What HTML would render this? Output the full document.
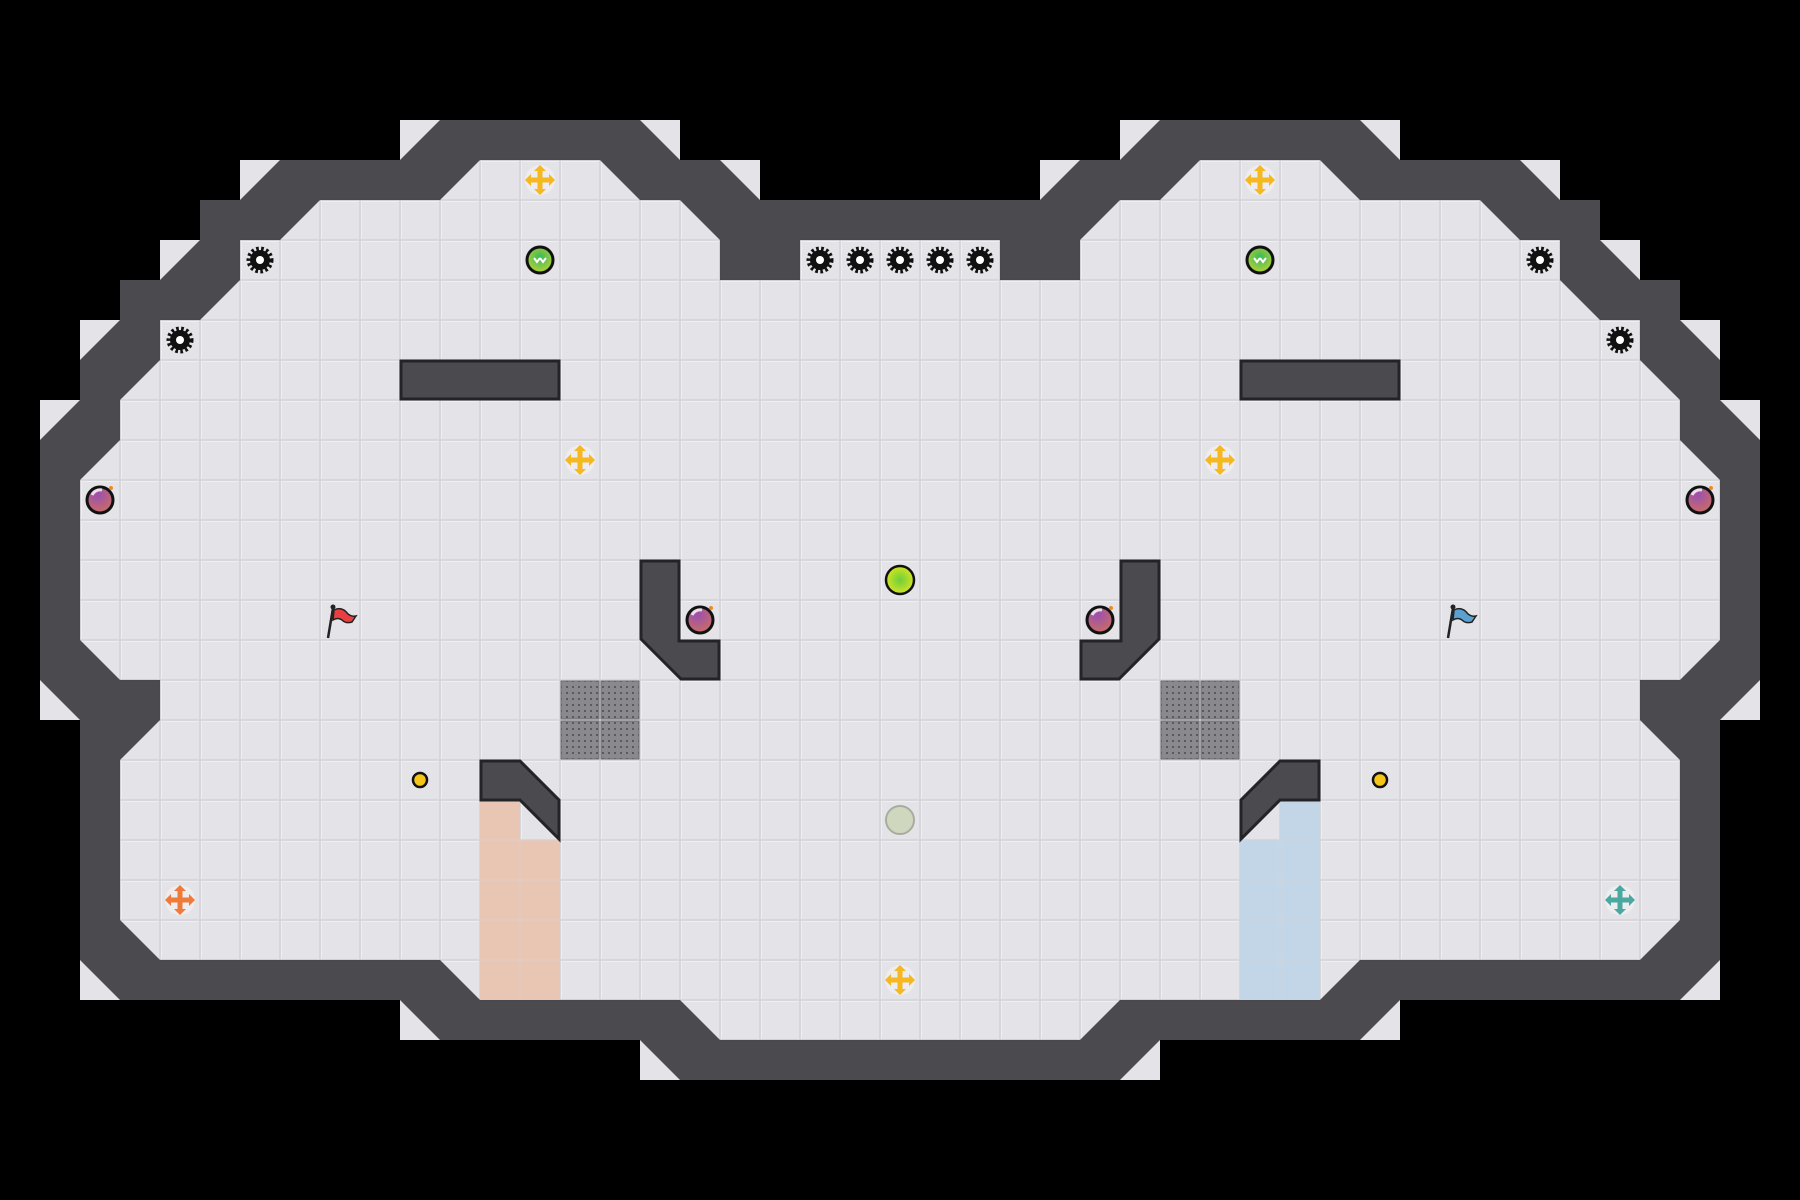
<!DOCTYPE html>
<html><head><meta charset="utf-8"><style>html,body{margin:0;padding:0;background:#000;}svg{display:block}</style></head>
<body>
<svg width="1800" height="1200" viewBox="0 0 1800 1200" xmlns="http://www.w3.org/2000/svg">
<defs>
<pattern id="tile" width="40" height="40" patternUnits="userSpaceOnUse">
<rect width="40" height="40" fill="#d6d6db"/>
<rect x="1" y="1" width="38" height="38" fill="#f0f0f3"/>
<rect x="2" y="2" width="37" height="37" fill="#e4e4e8"/>
</pattern>
<pattern id="grate" width="6" height="6" patternUnits="userSpaceOnUse">
<rect width="6" height="6" fill="#8a8a8e"/><rect x="2" y="2" width="2" height="2" fill="#5a5a5e"/>
</pattern>
<g id="gear"><circle r="11.5" fill="none" stroke="#111" stroke-width="4" stroke-dasharray="2.6 2.4"/><circle r="10" fill="#111"/><circle r="4" fill="#fff"/></g>
<g id="cross"><circle r="15" fill="#fff" opacity="0.35"/>
<rect x="-10" y="-2.5" width="20" height="5"/><rect x="-2.5" y="-10" width="5" height="20"/>
<polygon points="-15,0 -9,-6 -9,6"/><polygon points="15,0 9,-6 9,6"/><polygon points="0,-15 -6,-9 6,-9"/><polygon points="0,15 -6,9 6,9"/></g>
<radialGradient id="bombg" cx="0.4" cy="0.3" r="0.8"><stop offset="0" stop-color="#9a4fb0"/><stop offset="1" stop-color="#d0705a"/></radialGradient>
<radialGradient id="greeng" cx="0.5" cy="0.4" r="0.7"><stop offset="0" stop-color="#3cb85a"/><stop offset="1" stop-color="#c8d830"/></radialGradient>
<radialGradient id="limeg" cx="0.5" cy="0.5" r="0.6"><stop offset="0" stop-color="#6ccf3a"/><stop offset="1" stop-color="#e8e81e"/></radialGradient>
<g id="bomb"><circle r="13" fill="url(#bombg)" stroke="#111" stroke-width="3"/><path d="M-8,-5 A9,9 0 0 1 2,-10" stroke="#fff" stroke-width="3" fill="none" opacity="0.8"/><circle cx="11" cy="-12" r="2" fill="#f08a20"/></g>
<g id="gball"><circle r="13" fill="url(#greeng)" stroke="#111" stroke-width="3"/><path d="M-6,-2 l3,4 l3,-4 M0,-2 l3,4 l3,-4" stroke="#fff" stroke-width="2" fill="none"/></g>
</defs>
<rect width="1800" height="1200" fill="#000"/>
<g fill="#e4e4e8">
<rect x="400" y="120" width="40" height="40"/><rect x="640" y="120" width="40" height="40"/><rect x="720" y="160" width="40" height="40"/>
<rect x="240" y="160" width="40" height="40"/><rect x="160" y="240" width="40" height="40"/><rect x="80" y="320" width="40" height="40"/>
<rect x="40" y="400" width="40" height="40"/><rect x="40" y="680" width="40" height="40"/><rect x="80" y="960" width="40" height="40"/>
<rect x="400" y="1000" width="40" height="40"/><rect x="640" y="1040" width="40" height="40"/>
<rect x="1360" y="120" width="40" height="40"/><rect x="1120" y="120" width="40" height="40"/><rect x="1040" y="160" width="40" height="40"/>
<rect x="1520" y="160" width="40" height="40"/><rect x="1600" y="240" width="40" height="40"/><rect x="1680" y="320" width="40" height="40"/>
<rect x="1720" y="400" width="40" height="40"/><rect x="1720" y="680" width="40" height="40"/><rect x="1680" y="960" width="40" height="40"/>
<rect x="1360" y="1000" width="40" height="40"/><rect x="1120" y="1040" width="40" height="40"/>
</g>
<g transform="scale(40)">
<polygon fill="#4a4a4f" points="11,3 16,3 17,4 18,4 19,5 26,5 27,4 28,4 29,3 34,3 35,4 38,4 39,5 40,5 40,6 41,7 42,7 42,8 43,9 43,10 44,11 44,17 43,18 43,24 42,25 35,25 34,26 29,26 28,27 17,27 16,26 11,26 10,25 3,25 2,24 2,18 1,17 1,11 2,10 2,9 3,8 3,7 4,7 5,6 5,5 6,5 7,4 10,4"/>
<polygon fill="url(#tile)" stroke="#242428" stroke-width="0.08" transform="scale(0.025)" points="480,160 600,160 640,200 680,200 720,240 720,280 800,280 800,240 1000,240 1000,280 1080,280 1080,240 1120,200 1160,200 1200,160 1320,160 1360,200 1480,200 1520,240 1560,240 1560,280 1600,320 1640,320 1640,360 1680,400 1680,440 1720,480 1720,640 1680,680 1640,680 1640,720 1680,760 1680,920 1640,960 1360,960 1320,1000 1120,1000 1080,1040 720,1040 680,1000 480,1000 440,960 160,960 120,920 120,760 160,720 160,680 120,680 80,640 80,480 120,440 120,400 160,360 160,320 200,320 240,280 240,240 280,240 320,200 440,200"/>
</g>
<g fill="#e9c5b4"><rect x="480" y="800" width="40" height="200"/><rect x="520" y="840" width="40" height="160"/></g>
<g fill="#c3d6e7"><rect x="1280" y="800" width="40" height="200"/><rect x="1240" y="840" width="40" height="160"/></g>
<g stroke="#d8d8dc" stroke-width="1" opacity="0.5"><path d="M480,840h80M480,880h80M480,920h80M480,960h80M520,840v160M1240,840h80M1240,880h80M1240,920h80M1240,960h80M1280,840v160"/></g>
<g fill="url(#grate)" stroke="#6e6e72" stroke-width="1">
<rect x="561" y="681" width="38" height="38"/><rect x="601" y="681" width="38" height="38"/><rect x="561" y="721" width="38" height="38"/><rect x="601" y="721" width="38" height="38"/>
<rect x="1161" y="681" width="38" height="38"/><rect x="1201" y="681" width="38" height="38"/><rect x="1161" y="721" width="38" height="38"/><rect x="1201" y="721" width="38" height="38"/>
</g>
<g fill="#4a4a4f" stroke="#242428" stroke-width="3">
<rect x="401" y="361" width="158" height="38"/><rect x="1241" y="361" width="158" height="38"/>
<polygon points="641,561 679,561 679,641 719,641 719,679 681,679 641,639"/>
<polygon points="1159,561 1121,561 1121,641 1081,641 1081,679 1119,679 1159,639"/>
<polygon points="481,761 520,761 559,800 559,839 520,800 481,800"/>
<polygon points="1319,761 1280,761 1241,800 1241,839 1280,800 1319,800"/>
</g>
<use href="#gear" x="260" y="260"/><use href="#gear" x="180" y="340"/>
<use href="#gear" x="820" y="260"/><use href="#gear" x="860" y="260"/><use href="#gear" x="900" y="260"/><use href="#gear" x="940" y="260"/><use href="#gear" x="980" y="260"/>
<use href="#gear" x="1540" y="260"/><use href="#gear" x="1620" y="340"/>
<g fill="#f5b820"><use href="#cross" x="540" y="180"/><use href="#cross" x="580" y="460"/><use href="#cross" x="900" y="980"/><use href="#cross" x="1260" y="180"/><use href="#cross" x="1220" y="460"/></g>
<g fill="#f07a3a"><use href="#cross" x="180" y="900"/></g>
<g fill="#4aa8a0"><use href="#cross" x="1620" y="900"/></g>
<use href="#gball" x="540" y="260"/><use href="#gball" x="1260" y="260"/>
<use href="#bomb" x="100" y="500"/><use href="#bomb" x="700" y="620"/><use href="#bomb" x="1100" y="620"/><use href="#bomb" x="1700" y="500"/>
<circle cx="900" cy="580" r="14" fill="url(#limeg)" stroke="#111" stroke-width="2.5"/>
<circle cx="900" cy="820" r="14" fill="#cfd8bf" stroke="#a8ac9e" stroke-width="2"/>
<circle cx="420" cy="780" r="7" fill="#f5c518" stroke="#111" stroke-width="2.5"/>
<circle cx="1380" cy="780" r="7" fill="#f5c518" stroke="#111" stroke-width="2.5"/>
<g transform="translate(340,620)"><line x1="-12" y1="18" x2="-7" y2="-12" stroke="#222" stroke-width="2.5"/><circle cx="-7" cy="-13" r="2.5" fill="#222"/><path d="M-6,-10 Q2,-14 8,-6 Q12,-3 16,-4 L12,2 Q6,4 2,0 Q-2,-3 -7,0 Z" fill="#e84040" stroke="#222" stroke-width="1.5"/></g>
<g transform="translate(1460,620)"><line x1="-12" y1="18" x2="-7" y2="-12" stroke="#222" stroke-width="2.5"/><circle cx="-7" cy="-13" r="2.5" fill="#222"/><path d="M-6,-10 Q2,-14 8,-6 Q12,-3 16,-4 L12,2 Q6,4 2,0 Q-2,-3 -7,0 Z" fill="#5aa0d0" stroke="#222" stroke-width="1.5"/></g>
</svg>
</body></html>
